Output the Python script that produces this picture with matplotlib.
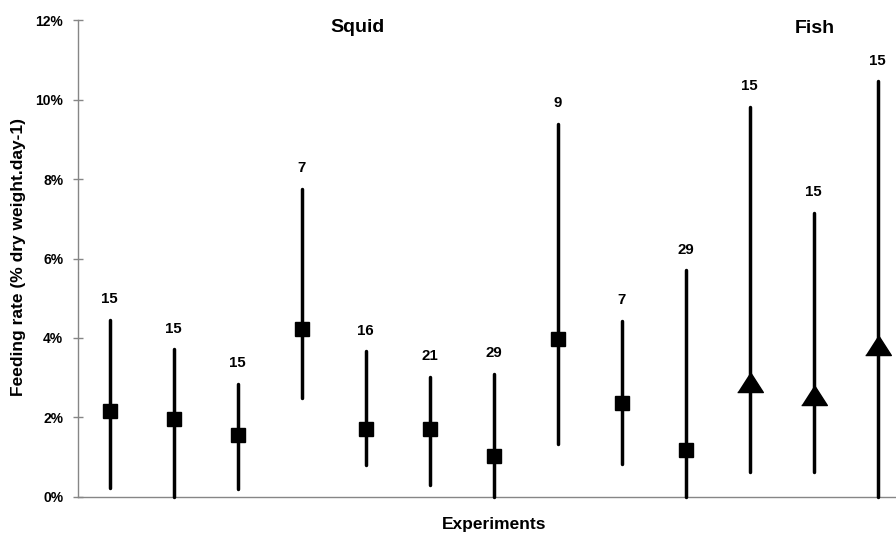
import matplotlib
matplotlib.use('Agg')
import matplotlib.pyplot as plt
import numpy as np

plt.rcParams['font.family'] = ['Liberation Sans', 'DejaVu Sans']

# feeding rate per experiment (% dry weight per day)
means = [2.15, 1.96, 1.55, 4.22, 1.70, 1.70, 1.02, 3.96, 2.37, 1.17, 2.88, 2.57, 3.81]
lows = [0.23, 0.0, 0.19, 2.49, 0.80, 0.29, 0.0, 1.32, 0.83, 0.0, 0.61, 0.61, 0.0]
highs = [4.46, 3.71, 2.84, 7.75, 3.66, 3.01, 3.09, 9.39, 4.42, 5.70, 9.82, 7.15, 10.46]
counts = [15, 15, 15, 7, 16, 21, 29, 9, 7, 29, 15, 15, 15]
prey = ['squid'] * 10 + ['fish'] * 3

yticks = [0, 2, 4, 6, 8, 10, 12]
ytick_labels = ['0%', '2%', '4%', '6%', '8%', '10%', '12%']

axis_grey = '#868686'

fig = plt.figure(figsize=(8.96, 5.33), dpi=100)
ax = fig.add_axes([0.0865, 0.0681, 0.9286, 0.8938])

x = np.arange(len(means))

# range bars
for i in x:
    ax.plot([i, i], [lows[i], highs[i]], color='black', lw=2.5,
            solid_capstyle='round', clip_on=False, zorder=3)
    ax.annotate(str(counts[i]), (i, highs[i]), xytext=(0, 15),
                textcoords='offset points', ha='center', va='center',
                fontsize=10.8, fontweight='bold')

# squid = squares, fish = wide triangles
tri = [(-1, -0.78), (1, -0.78), (0, 0.78)]
sq = [i for i in x if prey[i] == 'squid']
fi = [i for i in x if prey[i] == 'fish']
ax.plot(sq, [means[i] for i in sq], 's', color='black', ms=10, zorder=4,
        clip_on=False)
ax.plot(fi, [means[i] for i in fi], marker=tri, ls='none', color='black',
        ms=18.5, zorder=4, clip_on=False)

ax.set_xlim(-0.5, len(means) - 0.5)
ax.set_ylim(0, 12)
ax.set_yticks(yticks)
ax.set_yticklabels(ytick_labels, fontsize=10, fontweight='bold')
ax.set_xticks([])
ax.tick_params(axis='y', direction='inout', length=6.5, width=1,
               color=axis_grey, pad=7)

for s in ['top', 'right']:
    ax.spines[s].set_visible(False)
for s in ['left', 'bottom']:
    ax.spines[s].set_color(axis_grey)
    ax.spines[s].set_linewidth(1)

fig.text(357.5 / 896, 1 - 27.5 / 533, 'Squid', ha='center', va='center',
         fontsize=14, fontweight='bold')
fig.text(815 / 896, 1 - 28.5 / 533, 'Fish', ha='center', va='center',
         fontsize=14, fontweight='bold')
fig.text(494 / 896, 1 - 524.5 / 533, 'Experiments', ha='center', va='center',
         fontsize=12.5, fontweight='bold')
fig.text(19 / 896, 0.518, 'Feeding rate (% dry weight.day-1)', ha='center',
         va='center', rotation=90, fontsize=12.5, fontweight='bold')

fig.savefig('out.png', dpi=100)
